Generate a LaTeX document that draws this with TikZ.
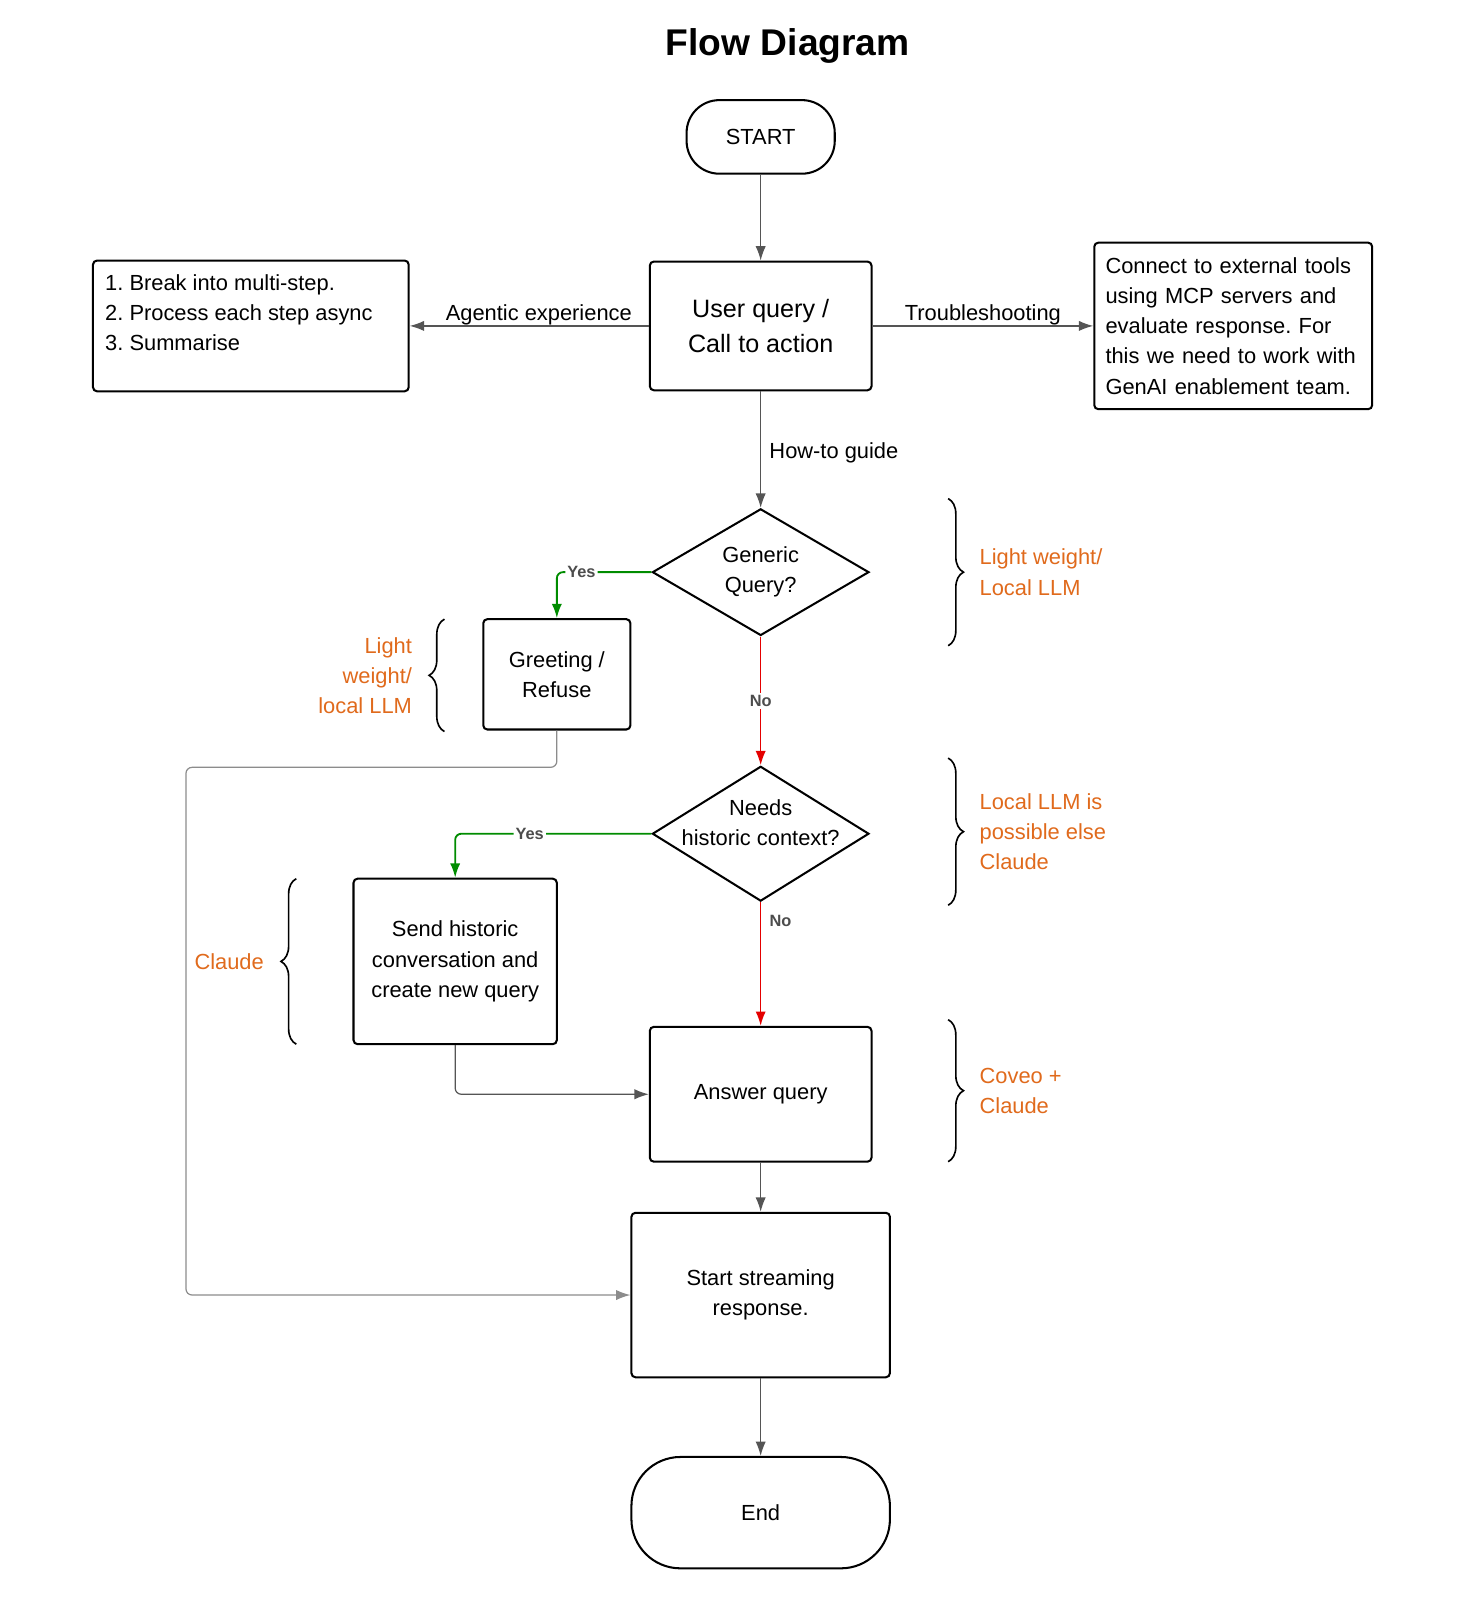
\documentclass[tikz,border=0pt]{standalone}
\usepackage{fontspec}
\setmainfont{Liberation Sans}
\usetikzlibrary{arrows.meta, positioning, shapes.geometric, decorations.pathreplacing}
\definecolor{llmorange}{RGB}{224,106,28}
\definecolor{yesgreen}{RGB}{0,140,0}
\definecolor{nored}{RGB}{228,0,0}
\definecolor{linegrey}{RGB}{85,85,85}
\newcommand{\txt}{\fontsize{10.7pt}{14.75pt}\selectfont}
\frenchspacing

\begin{document}
\begin{tikzpicture}[x=0.5pt, y=-0.5pt, >={Latex[length=7pt, width=5pt]},
  box/.style={draw, line width=1pt, rounded corners=2pt, font=\txt, align=center},
  term/.style={draw, line width=1pt, inner sep=0pt, font=\txt},
  decision/.style={draw, diamond, line width=1pt, minimum width=106pt, minimum height=62pt, inner sep=0pt},
  flow/.style={->, draw=linegrey, line width=0.6pt},
  lbl/.style={font=\txt, inner sep=0pt},
  tag/.style={font=\fontsize{8pt}{9pt}\selectfont\bfseries, text=black!70, fill=white, inner sep=1pt},
  curly/.style={decorate, decoration={brace, amplitude=7.5pt}, line width=0.8pt},
  note/.style={font=\txt, text=llmorange, inner sep=0pt}]
\useasboundingbox (0,0) rectangle (1440,1566);
\node[font=\fontsize{18.2pt}{22pt}\selectfont\bfseries] (title) at (771,45) {Flow Diagram};
\node[term, rounded corners=16pt, minimum width=72.5pt, minimum height=36pt] (S) at (744.5,134) {START};
\node[box, minimum width=108.5pt, minimum height=63pt, font=\fontsize{12.3pt}{17.5pt}\selectfont] (U) at (744.5,319) {User query /\\Call to action};
\node[box, minimum width=154.5pt, minimum height=64pt, inner xsep=6pt, inner ysep=7pt, align=left] (M) at (245.5,319) {\parbox[c][50pt][t]{142.5pt}{1. Break into multi-step.\\2. Process each step async\\3. Summarise}};
\node[box, text width=125pt, inner xsep=5.5pt, minimum height=81.5pt, align=left] (X) at (1207,319) {Connect to external tools\\using MCP servers and\\evaluate response. For\\this we need to work with\\GenAI enablement team.};
\node[decision, label={[font=\txt, align=center]center:Generic\\Query?}] (D1) at (744.5,560) {};
\node[box, minimum width=72pt, minimum height=54pt] (G) at (545,660) {Greeting /\\Refuse};
\node[decision, minimum height=66pt, label={[font=\txt, align=center, yshift=5.5pt]center:Needs\\historic context?}] (D2) at (744.5,816) {};
\node[box, minimum width=99.5pt, minimum height=81pt] (H) at (445.5,941) {Send historic\\conversation and\\create new query};
\node[box, minimum width=108.5pt, minimum height=66pt] (A) at (744.5,1071) {Answer query};
\node[box, minimum width=126.5pt, minimum height=80.5pt] (R) at (744.5,1267.5) {Start streaming\\response.};
\node[term, rounded corners=24pt, minimum width=126.5pt, minimum height=54.5pt] (E) at (744.5,1480.5) {End};
\coordinate (bend) at (182,751);
\draw[flow] (S) -- (U);
\draw[flow] (U.west) -- node[pos=0.46, above, lbl] {Agentic experience} (M.east);
\draw[flow] (U.east) -- node[pos=0.5, above, lbl] {Troubleshooting} (X.west);
\draw[flow] (U) -- node[pos=0.53, right=4pt, lbl] {How-to guide} (D1);
\draw[flow, draw=yesgreen, line width=0.9pt, rounded corners=3pt] (D1.west) -| node[pos=0.37, tag] {Yes} (G.north);
\draw[flow, draw=nored, line width=0.8pt] (D1.south) -- node[tag] {No} (D2.north);
\draw[flow, draw=yesgreen, line width=0.9pt, rounded corners=3pt] (D2.west) -| node[pos=0.31, tag] {Yes} (H.north);
\draw[flow, draw=nored, line width=0.8pt] (D2.south) -- node[pos=0.15, right=3pt, tag] {No} (A.north);
\draw[flow, rounded corners=3pt] (H.south) |- (A.west);
\draw[flow, draw=black!45, rounded corners=3pt] (G.south) |- (bend) |- (R.west);
\draw[flow] (A) -- (R);
\draw[flow] (R) -- (E);
\draw[curly] (928,488) -- (928,632) node[midway, right=15pt, note, align=left] {Light weight/\\Local LLM};
\draw[curly] (928,742) -- (928,886) node[midway, right=15pt, note, align=left] {Local LLM is\\possible else\\Claude};
\draw[curly] (928,998) -- (928,1137) node[midway, right=15pt, note, align=left] {Coveo +\\Claude};
\draw[curly] (435,716) -- (435,606) node[midway, left=15.5pt, note, align=right] {Light\\weight/\\local LLM};
\draw[curly] (290,1022) -- (290,860) node[midway, left=15.5pt, note] {Claude};
\end{tikzpicture}
\end{document}
